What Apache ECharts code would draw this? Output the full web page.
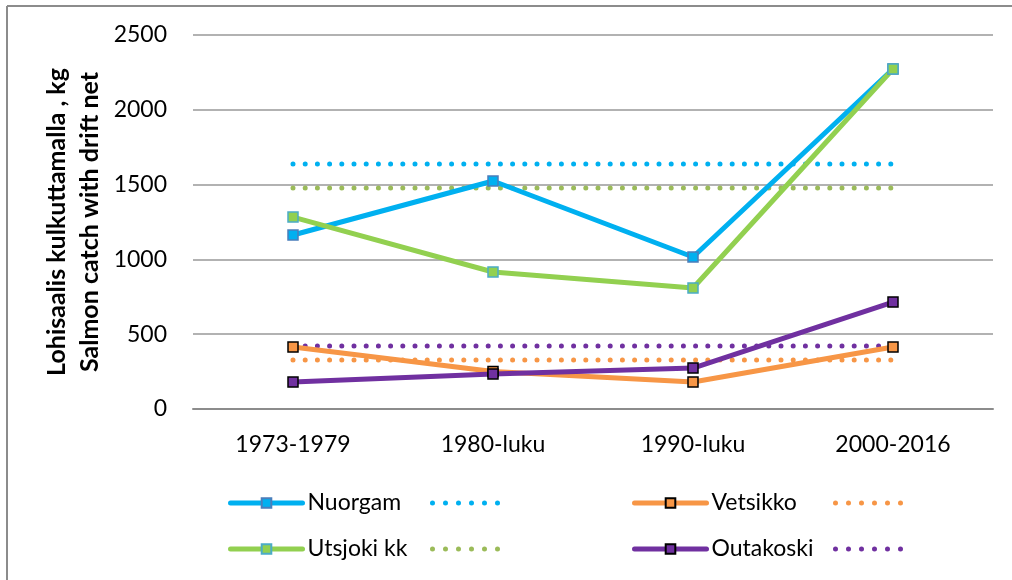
<!DOCTYPE html>
<html lang="fi">
<head>
    <meta charset="utf-8">
    <title>Lohisaalis kulkuttamalla</title>
    <style>
        html, body { margin: 0; padding: 0; background: #fff; }
        #id-main-area { width: 1012px; height: 580px; }
    </style>
</head>
<body>
    <div id="id-main-area"></div>
    <script src="https://cdn.jsdelivr.net/npm/echarts@6/dist/echarts.min.js"></script>
    <script>
        var periods = ['1973-1979', '1980-luku', '1990-luku', '2000-2016']

        var nuorgam = [1163, 1524, 1016, 2273]
        var utsjoki = [1283, 916, 809, 2273]
        var vetsikko = [414, 250, 180, 414]
        var outakoski = [180, 234, 274, 715]

        // keskiarvot (pisteviivat)
        var nuorgamMean = [1638, 1638, 1638, 1638]
        var utsjokiMean = [1477, 1477, 1477, 1477]
        var vetsikkoMean = [328, 328, 328, 328]
        var outakoskiMean = [421, 421, 421, 421]

        var font = 'Lato, "Open Sans", sans-serif'
        var dots = [0, 12.2]

        var solidLine = (name, data, color, border) => {
            return {
                name: name,
                type: 'line',
                data: data,
                symbol: 'rect',
                symbolSize: 10,
                z: 3,
                lineStyle: { color: color, width: 5, cap: 'round' },
                itemStyle: { color: color, borderColor: border, borderWidth: 1.5 },
            }
        }

        var dotLine = (name, data, color) => {
            return {
                name: name,
                type: 'line',
                data: data,
                symbol: 'none',
                z: 2,
                lineStyle: { color: color, width: 5, type: dots, cap: 'round' },
                itemStyle: { color: color },
            }
        }

        var legendCol = (left, names, dotted) => {
            var l = {
                orient: 'vertical',
                left: left,
                top: 491,
                padding: 0,
                itemWidth: 72,
                itemHeight: 12,
                itemGap: 22,
                textStyle: { fontFamily: font, fontSize: 23, color: '#000', lineHeight: 24 },
                lineStyle: { width: 5, cap: 'round' },
                data: names,
            }
            if (dotted) {
                l.itemWidth = 66
                l.formatter = () => '\u00a0'
                l.itemStyle = { opacity: 0 }
                l.lineStyle = { width: 5, cap: 'round', type: [0, 13] }
            }
            return l
        }

        var showChart = () => {
            var chart = echarts.init(document.querySelector('#id-main-area'))
            var option = {
                animation: false,
                grid: { left: 193, right: 19, top: 35, bottom: 171 },
                legend: [
                    legendCol(228, ['Nuorgam', 'Utsjoki kk']),
                    legendCol(430, ['Nuorgam ka', 'Utsjoki kk ka'], true),
                    legendCol(632, ['Vetsikko', 'Outakoski']),
                    legendCol(833, ['Vetsikko ka', 'Outakoski ka'], true),
                ],
                graphic: [
                    { type: 'line', shape: { x1: 7, y1: 6, x2: 1012, y2: 6 }, style: { stroke: '#8c8c8c', lineWidth: 2 } },
                    { type: 'line', shape: { x1: 7, y1: 6, x2: 7, y2: 580 }, style: { stroke: '#8c8c8c', lineWidth: 2 } },
                ],
                xAxis: {
                    type: 'category',
                    data: periods,
                    boundaryGap: true,
                    axisLine: { lineStyle: { color: '#8c8c8c', width: 2 } },
                    axisTick: { show: false },
                    axisLabel: { fontFamily: font, fontSize: 23, color: '#000', margin: 24 },
                },
                yAxis: {
                    type: 'value',
                    min: 0,
                    max: 2500,
                    interval: 500,
                    name: 'Lohisaalis kulkuttamalla , kg\nSalmon catch with drift net',
                    nameLocation: 'middle',
                    nameGap: 87,
                    nameMoveOverlap: false,
                    nameRotate: 90,
                    nameTextStyle: { fontFamily: font, fontSize: 25, fontWeight: 'bold', color: '#000', lineHeight: 33 },
                    axisLine: { show: false },
                    axisTick: { show: false },
                    axisLabel: { fontFamily: font, fontSize: 23, color: '#000', margin: 26, formatter: (v) => String(v) },
                    splitLine: { lineStyle: { color: '#999', width: 1.5 } },
                },
                series: [
                    dotLine('Nuorgam ka', nuorgamMean, '#00B0F0'),
                    dotLine('Utsjoki kk ka', utsjokiMean, '#9BBB59'),
                    dotLine('Vetsikko ka', vetsikkoMean, '#F79646'),
                    dotLine('Outakoski ka', outakoskiMean, '#7030A0'),
                    solidLine('Nuorgam', nuorgam, '#00B0F0', '#4A7EBB'),
                    solidLine('Utsjoki kk', utsjoki, '#92D050', '#4BACC6'),
                    solidLine('Vetsikko', vetsikko, '#F79646', '#000'),
                    solidLine('Outakoski', outakoski, '#7030A0', '#000'),
                ],
            }
            chart.setOption(option)
        }

        showChart()
    </script>
</body>
</html>
